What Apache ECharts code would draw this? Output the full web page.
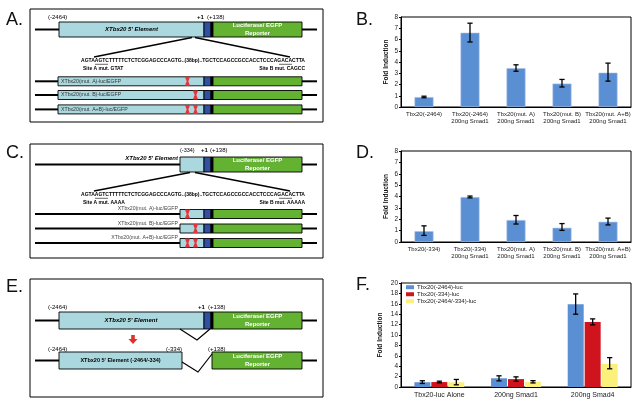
<!DOCTYPE html>
<html><head><meta charset="utf-8">
<script src="https://cdn.jsdelivr.net/npm/echarts@6/dist/echarts.min.js"></script>
<style>html,body{margin:0;padding:0;background:#fff}#c{width:637px;height:409px}</style>
</head><body><div id="c"></div>
<script>
// ---------------- data ----------------
const catsB = ['Tbx20(-2464)', 'Tbx20(-2464)\n200ng Smad1', 'Tbx20(mut. A)\n200ng Smad1', 'Tbx20(mut. B)\n200ng Smad1', 'Tbx20(mut. A+B)\n200ng Smad1'];
const valsB = [0.88, 6.6, 3.45, 2.08, 3.05];
const lowB  = [0.82, 5.78, 3.18, 1.78, 2.3];
const highB = [0.96, 7.45, 3.75, 2.45, 3.9];

const catsD = ['Tbx20(-334)', 'Tbx20(-334)\n200ng Smad1', 'Tbx20(mut. A)\n200ng Smad1', 'Tbx20(mut. B)\n200ng Smad1', 'Tbx20(mut. A+B)\n200ng Smad1'];
const valsD = [0.95, 3.95, 1.93, 1.25, 1.78];
const lowD  = [0.58, 3.88, 1.58, 1.02, 1.5];
const highD = [1.42, 4.04, 2.33, 1.62, 2.1];

const catsF = ['Tbx20-luc Alone', '200ng Smad1', '200ng Smad4'];
const namesF = ['Tbx20(-2464)-luc', 'Tbx20(-334)-luc', 'Tbx20(-2464/-334)-luc'];
const valsF1 = [0.92, 1.68, 15.9];
const lowF1  = [0.68, 1.18, 14.0];
const highF1 = [1.2, 2.15, 17.9];
const valsF2 = [0.95, 1.52, 12.5];
const lowF2  = [0.8, 1.1, 11.95];
const highF2 = [1.12, 1.95, 13.1];
const valsF3 = [0.92, 1.0, 4.45];
const lowF3  = [0.42, 0.78, 3.5];
const highF3 = [1.45, 1.22, 5.65];

const yNameAll = 'Fold Induction';
const letters = ['A.', 'B.', 'C.', 'D.', 'E.', 'F.'];

// diagram texts
const seqText = 'AGTAAGTCTTTTTCTCTCGGAGCCCAGTG..(38bp)..TGCTCCAGCCGCCACCTCCCAGACACTTA';
const elementText = "XTbx20 5' Element";
const elementShortText = "XTbx20 5' Element (-2464/-334)";
const reporterText = ['Luciferase/ EGFP', 'Reporter'];
const posTexts = ['(-2464)', '(-334)', '+1', '(+138)'];
const siteTextsA = ['Site A mut. GTAT', 'Site B mut. CAGCC'];
const siteTextsC = ['Site A mut. AAAA', 'Site B mut. AAAAA'];
const constructLabels = ['XTbx20(mut. A)-luc/EGFP', 'XTbx20(mut. B)-luc/EGFP', 'XTbx20(mut. A+B)-luc/EGFP'];
const constructMuts = [['A'], ['B'], ['A', 'B']];

// ---------------- diagram drawing ----------------
const FONT = 'Liberation Sans';
const LB = '#aad8de', DB = '#3350a0', GR = '#64b232', RED = '#e8333a';
const MUTX = {A: 157.5, B: 165.5};

function construct(S, yc, h, proL, muts) {
  const y1 = yc - h / 2, y2 = yc + h / 2;
  S.push({t: 'line', p: [[5, yc], [proL, yc]], w: 2});
  S.push({t: 'line', p: [[272, yc], [287, yc]], w: 2});
  S.push({t: 'rect', x1: proL, y1, x2: 174, y2, fill: LB});
  S.push({t: 'rect', x1: 174, y1, x2: 181, y2, fill: DB});
  S.push({t: 'rect', x1: 181, y1, x2: 183, y2, fill: '#000'});
  S.push({t: 'rect', x1: 183, y1, x2: 272, y2, fill: GR});
  (muts || []).forEach(m => S.push({t: 'mut', x: MUTX[m], y1, y2}));
}
function reporter(S, yc) {
  S.push({t: 'text', x: 227.5, y: yc - 3.8, s: reporterText[0], size: 6, w: 'bold', fill: '#fff', align: 'center'});
  S.push({t: 'text', x: 227.5, y: yc + 3.6, s: reporterText[1], size: 6, w: 'bold', fill: '#fff', align: 'center'});
}

// Panel A
const shapesA = [];
construct(shapesA, 20.5, 15, 29, []);
shapesA.push({t: 'text', x: 18, y: 8, s: posTexts[0], size: 6});
shapesA.push({t: 'text', x: 167, y: 8, s: posTexts[2], size: 6, w: 'bold'});
shapesA.push({t: 'text', x: 177, y: 8, s: posTexts[3], size: 6});
shapesA.push({t: 'text', x: 101.5, y: 20.5, s: elementText, size: 6, w: 'bold', st: 'italic', align: 'center'});
reporter(shapesA, 20.5);
shapesA.push({t: 'line', p: [[162, 28.5], [64, 48]], w: 1.5});
shapesA.push({t: 'line', p: [[165, 28.5], [260, 48]], w: 1.5});
shapesA.push({t: 'text', x: 163, y: 52, s: seqText, size: 5, w: 'bold', align: 'center'});
shapesA.push({t: 'line', p: [[65, 55.3], [78, 55.3]], w: 0.6});
shapesA.push({t: 'line', p: [[249, 55.3], [262, 55.3]], w: 0.6});
shapesA.push({t: 'text', x: 53, y: 59.5, s: siteTextsA[0], size: 5, w: 'bold'});
shapesA.push({t: 'text', x: 275, y: 59.5, s: siteTextsA[1], size: 5, w: 'bold', align: 'right'});
[72.3, 86, 100.4].forEach((yc, i) => {
  construct(shapesA, yc, 9, 28, constructMuts[i]);
  shapesA.push({t: 'text', x: 31, y: yc, s: constructLabels[i], size: 5.2, fill: '#333'});
});

// Panel C
const shapesC = [];
construct(shapesC, 20.5, 15, 150, []);
shapesC.push({t: 'text', x: 148, y: 14, s: elementText, size: 6, w: 'bold', st: 'italic', align: 'right'});
shapesC.push({t: 'text', x: 150, y: 6.5, s: posTexts[1], size: 5.5});
shapesC.push({t: 'text', x: 171, y: 6.5, s: posTexts[2], size: 6, w: 'bold'});
shapesC.push({t: 'text', x: 180, y: 6.5, s: posTexts[3], size: 6});
reporter(shapesC, 20.5);
shapesC.push({t: 'line', p: [[160, 28.5], [64, 47]], w: 1.5});
shapesC.push({t: 'line', p: [[165, 28.5], [260, 47]], w: 1.5});
shapesC.push({t: 'text', x: 163, y: 51, s: seqText, size: 5, w: 'bold', align: 'center'});
shapesC.push({t: 'line', p: [[65, 54.3], [78, 54.3]], w: 0.6});
shapesC.push({t: 'line', p: [[249, 54.3], [262, 54.3]], w: 0.6});
shapesC.push({t: 'text', x: 53, y: 58.5, s: siteTextsC[0], size: 5, w: 'bold'});
shapesC.push({t: 'text', x: 275, y: 58.5, s: siteTextsC[1], size: 5, w: 'bold', align: 'right'});
[70, 84.5, 99].forEach((yc, i) => {
  construct(shapesC, yc, 9, 150, constructMuts[i]);
  shapesC.push({t: 'text', x: 148, y: yc - 5.2, s: constructLabels[i], size: 5.2, fill: '#444', align: 'right'});
});

// Panel E
const shapesE = [];
construct(shapesE, 41.5, 17, 29, []);
shapesE.push({t: 'text', x: 101, y: 41.5, s: elementText, size: 6, w: 'bold', st: 'italic', align: 'center'});
shapesE.push({t: 'text', x: 18, y: 28.5, s: posTexts[0], size: 6});
shapesE.push({t: 'text', x: 168, y: 28.5, s: posTexts[2], size: 6, w: 'bold'});
shapesE.push({t: 'text', x: 178, y: 28.5, s: posTexts[3], size: 6});
reporter(shapesE, 41.5);
shapesE.push({t: 'line', p: [[150, 50], [167, 61], [180, 50]], w: 1.2});
shapesE.push({t: 'arrow', x: 103, y1: 56, y2: 65});
// row 2
shapesE.push({t: 'line', p: [[5, 81.5], [29, 81.5]], w: 2});
shapesE.push({t: 'line', p: [[272, 81.5], [287, 81.5]], w: 2});
shapesE.push({t: 'rect', x1: 29, y1: 73, x2: 152, y2: 90, fill: LB});
shapesE.push({t: 'rect', x1: 182, y1: 73, x2: 272, y2: 90, fill: GR});
shapesE.push({t: 'line', p: [[152, 83], [168, 93], [182, 75]], w: 1.2});
shapesE.push({t: 'text', x: 90.5, y: 81.5, s: elementShortText, size: 5.5, w: 'bold', align: 'center'});
shapesE.push({t: 'text', x: 18, y: 70, s: posTexts[0], size: 6});
shapesE.push({t: 'text', x: 152, y: 70, s: posTexts[1], size: 6, align: 'right'});
shapesE.push({t: 'text', x: 178, y: 70, s: posTexts[3], size: 6});
reporter(shapesE, 81.5);

function buildShape(s, P) {
  if (s.t === 'line') {
    return {type: 'polyline', shape: {points: s.p.map(q => P(q[0], q[1]))}, style: {stroke: '#000', lineWidth: s.w || 1, fill: null}};
  }
  if (s.t === 'rect') {
    const a = P(s.x1, s.y1), b = P(s.x2, s.y2);
    return {type: 'rect', shape: {x: Math.min(a[0], b[0]), y: Math.min(a[1], b[1]), width: Math.abs(b[0] - a[0]), height: Math.abs(b[1] - a[1])},
      style: {fill: s.fill, stroke: '#000', lineWidth: 0.9}};
  }
  if (s.t === 'mut') {
    const yc = (s.y1 + s.y2) / 2;
    const pts = [[s.x - 2.6, s.y1], [s.x + 2.6, s.y1], [s.x + 0.8, yc], [s.x + 2.6, s.y2], [s.x - 2.6, s.y2], [s.x - 0.8, yc]];
    return {type: 'polygon', shape: {points: pts.map(q => P(q[0], q[1]))}, style: {fill: RED}};
  }
  if (s.t === 'arrow') {
    const m = s.y1 + (s.y2 - s.y1) * 0.45;
    const pts = [[s.x - 1.8, s.y1], [s.x + 1.8, s.y1], [s.x + 1.8, m], [s.x + 4.5, m], [s.x, s.y2], [s.x - 4.5, m], [s.x - 1.8, m]];
    return {type: 'polygon', shape: {points: pts.map(q => P(q[0], q[1]))}, style: {fill: '#e0302a'}};
  }
  const a = P(s.x, s.y);
  return {type: 'text', x: a[0], y: a[1], style: {text: s.s, fontSize: s.size, fontFamily: FONT, fontWeight: s.w || 'normal',
    fontStyle: s.st || 'normal', fill: s.fill || '#000', align: s.align || 'left', verticalAlign: 'middle'}};
}

function diagramSeries(gi, shapes) {
  return {
    type: 'custom', xAxisIndex: gi, yAxisIndex: gi, silent: true, clip: false, z: 5,
    data: [[0, 0]],
    renderItem: function (params, api) {
      const P = (x, y) => api.coord([x, y]);
      return {type: 'group', children: shapes.map(s => buildShape(s, P))};
    }
  };
}

// ---------------- charts ----------------
function errSeries(gi, lows, highs, offset) {
  return {
    type: 'custom', xAxisIndex: gi, yAxisIndex: gi, z: 10, silent: true,
    data: lows.map((l, i) => [i, l, highs[i]]),
    encode: {x: 0, y: [1, 2]},
    renderItem: function (params, api) {
      const lo = api.coord([api.value(0), api.value(1)]);
      const hi = api.coord([api.value(0), api.value(2)]);
      const x = lo[0] + offset, cw = 2.6;
      const st = {stroke: '#000', lineWidth: 1.3};
      return {type: 'group', children: [
        {type: 'line', shape: {x1: x, y1: lo[1], x2: x, y2: hi[1]}, style: st},
        {type: 'line', shape: {x1: x - cw, y1: lo[1], x2: x + cw, y2: lo[1]}, style: st},
        {type: 'line', shape: {x1: x - cw, y1: hi[1], x2: x + cw, y2: hi[1]}, style: st}
      ]};
    }
  };
}

const diagGrid = (top, h) => ({left: 30, top: top, width: 293, height: h, show: true, borderColor: '#000', borderWidth: 1, backgroundColor: 'transparent'});
const chartGrid = (top, h) => ({left: 401, top: top, width: 230, height: h, show: true, borderColor: '#000', borderWidth: 1, backgroundColor: 'transparent'});

const diagX = gi => ({gridIndex: gi, type: 'value', min: 0, max: 293, show: false});
const diagY = (gi, h) => ({gridIndex: gi, type: 'value', min: 0, max: h, inverse: true, show: false});

const catX = (gi, cats, fs) => ({gridIndex: gi, type: 'category', data: cats,
  axisLine: {lineStyle: {color: '#000', width: 1}}, axisTick: {show: false},
  axisLabel: {interval: 0, fontSize: fs, lineHeight: fs + 1, fontFamily: FONT, color: '#222', margin: 4}});
const valY = (gi, max, interval, gap) => ({gridIndex: gi, type: 'value', min: 0, max: max, interval: interval,
  splitLine: {show: false}, axisLine: {show: true, lineStyle: {color: '#000'}},
  axisTick: {show: true, length: 2, lineStyle: {color: '#000'}},
  axisLabel: {fontSize: 6.5, fontFamily: FONT, color: '#222', margin: 3},
  name: yNameAll, nameLocation: 'middle', nameGap: gap,
  nameTextStyle: {fontSize: 6.5, fontWeight: 'bold', fontFamily: FONT, color: '#111'}});

const BLUE = '#5b8fd4', CRIM = '#d0141e', YEL = '#faf07a';
const letterPos = [[6, 11], [356, 11], [6, 144], [356, 144], [6, 278], [356, 276]];

const option = {
  animation: false,
  backgroundColor: '#fff',
  title: letters.map((t, i) => ({text: t, left: letterPos[i][0], top: letterPos[i][1], padding: 0,
    textStyle: {fontSize: 18, fontWeight: 'normal', fontFamily: FONT, color: '#111'}})),
  legend: {
    data: namesF, orient: 'vertical', left: 406, top: 284, itemWidth: 8, itemHeight: 4, itemGap: 0.5, padding: 0,
    icon: 'rect', textStyle: {fontSize: 6, fontFamily: FONT, color: '#222', lineHeight: 6.5, padding: [0, 0, 0, -2]}
  },
  grid: [diagGrid(9, 113), diagGrid(144, 114), diagGrid(279, 118), chartGrid(17, 90), chartGrid(151, 91), chartGrid(283, 104)],
  xAxis: [diagX(0), diagX(1), diagX(2), catX(3, catsB, 6), catX(4, catsD, 6), catX(5, catsF, 7)],
  yAxis: [diagY(0, 113), diagY(1, 114), diagY(2, 118), valY(3, 8, 1, 11), valY(4, 8, 1, 11), valY(5, 20, 2, 17)],
  series: [
    diagramSeries(0, shapesA), diagramSeries(1, shapesC), diagramSeries(2, shapesE),
    {type: 'bar', name: 'B', xAxisIndex: 3, yAxisIndex: 3, data: valsB, barWidth: 19, itemStyle: {color: BLUE, borderColor: '#a8c2e6', borderWidth: 0.6}},
    errSeries(3, lowB, highB, 0),
    {type: 'bar', name: 'D', xAxisIndex: 4, yAxisIndex: 4, data: valsD, barWidth: 19, itemStyle: {color: BLUE, borderColor: '#a8c2e6', borderWidth: 0.6}},
    errSeries(4, lowD, highD, 0),
    {type: 'bar', name: namesF[0], xAxisIndex: 5, yAxisIndex: 5, data: valsF1, barWidth: 16, barGap: '6%', itemStyle: {color: BLUE}},
    {type: 'bar', name: namesF[1], xAxisIndex: 5, yAxisIndex: 5, data: valsF2, barWidth: 16, barGap: '6%', itemStyle: {color: CRIM}},
    {type: 'bar', name: namesF[2], xAxisIndex: 5, yAxisIndex: 5, data: valsF3, barWidth: 16, barGap: '6%', itemStyle: {color: YEL}},
    errSeries(5, lowF1, highF1, -17), errSeries(5, lowF2, highF2, 0), errSeries(5, lowF3, highF3, 17)
  ]
};
const chart = echarts.init(document.getElementById('c'), null, {renderer: 'canvas'});
chart.setOption(option);
</script></body></html>
